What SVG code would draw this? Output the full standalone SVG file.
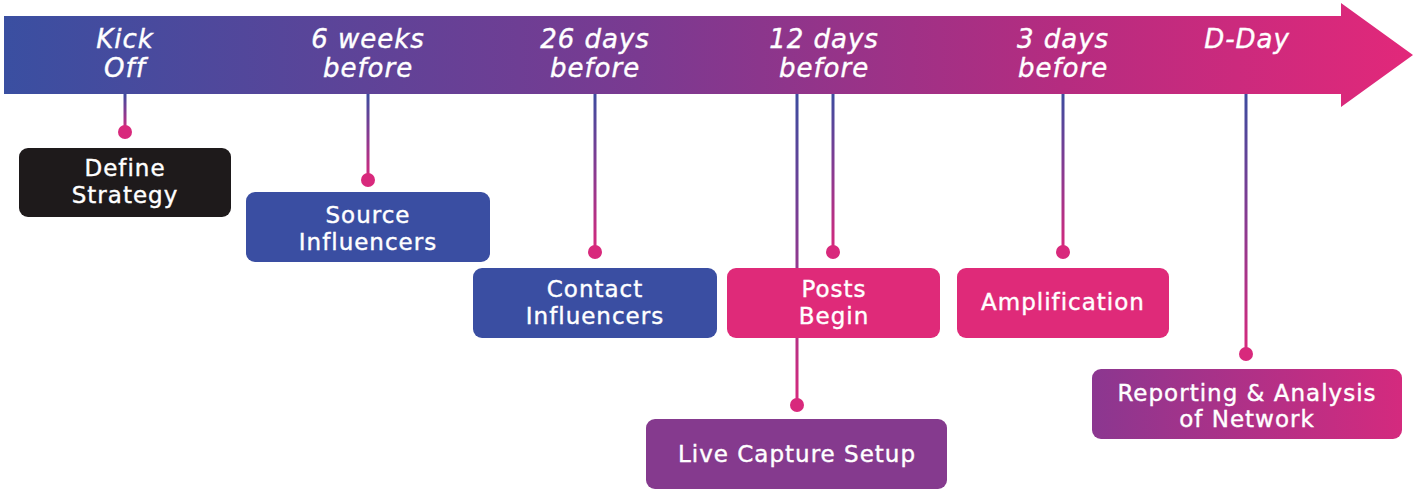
<svg xmlns="http://www.w3.org/2000/svg" width="1413" height="491" viewBox="0 0 1413 491">
  <defs>
    <linearGradient id="arrowGrad" x1="0" y1="0" x2="1" y2="0">
      <stop offset="0" stop-color="#3a4fa1"/>
      <stop offset="0.45" stop-color="#7a3a91"/>
      <stop offset="0.75" stop-color="#b52c80"/>
      <stop offset="1" stop-color="#e2287a"/>
    </linearGradient>
    <linearGradient id="stemGrad" x1="0" y1="0" x2="0" y2="1">
      <stop offset="0" stop-color="#3d4c9f"/>
      <stop offset="0.5" stop-color="#8a3a90"/>
      <stop offset="1" stop-color="#d8297c"/>
    </linearGradient>
    <linearGradient id="reportGrad" x1="0" y1="0" x2="1" y2="0">
      <stop offset="0" stop-color="#8b3790"/>
      <stop offset="1" stop-color="#d42a7e"/>
    </linearGradient>
    <style>
      .phase { font-family: "DejaVu Sans", "Noto Sans", sans-serif; font-style: italic; font-size: 26px; letter-spacing: 1px; fill: #ffffff; stroke: #ffffff; stroke-width: 0.4px; text-anchor: middle; }
      .label { font-family: "DejaVu Sans", "Noto Sans", sans-serif; font-size: 23px; letter-spacing: 1px; fill: #ffffff; stroke: #ffffff; stroke-width: 0.4px; text-anchor: middle; }
      .stem { fill: url(#stemGrad); }
      .dot { fill: #d8297c; }
      .box { rx: 9; ry: 9; }
    </style>
  </defs>

  <!-- timeline arrow -->
  <g id="timeline">
    <path d="M4 16 H1341 V3 L1413 55 L1341 107 V94 H4 Z" fill="url(#arrowGrad)"/>
    <text class="phase" x="125" y="48">Kick</text>
    <text class="phase" x="125" y="77">Off</text>
    <text class="phase" x="368" y="48">6 weeks</text>
    <text class="phase" x="368" y="77">before</text>
    <text class="phase" x="595" y="48">26 days</text>
    <text class="phase" x="595" y="77">before</text>
    <text class="phase" x="824" y="48">12 days</text>
    <text class="phase" x="824" y="77">before</text>
    <text class="phase" x="1063" y="48">3 days</text>
    <text class="phase" x="1063" y="77">before</text>
    <text class="phase" x="1247" y="48">D-Day</text>
  </g>

  <!-- stems from the timeline to each task -->
  <g id="connectors">
    <rect class="stem" x="123.5" y="94" width="3" height="38"/>
    <circle class="dot" cx="125" cy="132" r="7"/>
    <rect class="stem" x="366.5" y="94" width="3" height="86"/>
    <circle class="dot" cx="368" cy="180" r="7"/>
    <rect class="stem" x="593.5" y="94" width="3" height="158"/>
    <circle class="dot" cx="595" cy="252" r="7"/>
    <rect class="stem" x="795.5" y="94" width="3" height="311"/>
    <circle class="dot" cx="797" cy="405" r="7"/>
    <rect class="stem" x="831.5" y="94" width="3" height="158"/>
    <circle class="dot" cx="833" cy="252" r="7"/>
    <rect class="stem" x="1061.5" y="94" width="3" height="158"/>
    <circle class="dot" cx="1063" cy="252" r="7"/>
    <rect class="stem" x="1244.5" y="94" width="3" height="260"/>
    <circle class="dot" cx="1246" cy="354" r="7"/>
  </g>

  <g id="define-strategy">
    <rect class="box" x="19" y="148" width="212" height="69" fill="#1e1a1b"/>
    <text class="label" x="125" y="176">Define</text>
    <text class="label" x="125" y="203">Strategy</text>
  </g>

  <g id="source-influencers">
    <rect class="box" x="246" y="192" width="244" height="70" fill="#3a4ea2"/>
    <text class="label" x="368" y="223">Source</text>
    <text class="label" x="368" y="250">Influencers</text>
  </g>

  <g id="contact-influencers">
    <rect class="box" x="473" y="268" width="244" height="70" fill="#3a4ea2"/>
    <text class="label" x="595" y="297">Contact</text>
    <text class="label" x="595" y="324">Influencers</text>
  </g>

  <g id="posts-begin">
    <rect class="box" x="727" y="268" width="213" height="70" fill="#df2a79"/>
    <text class="label" x="834" y="297">Posts</text>
    <text class="label" x="834" y="324">Begin</text>
  </g>

  <g id="amplification">
    <rect class="box" x="957" y="268" width="212" height="70" fill="#df2a79"/>
    <text class="label" x="1063" y="310">Amplification</text>
  </g>

  <g id="live-capture-setup">
    <rect class="box" x="646" y="419" width="301" height="70" fill="#853a8e"/>
    <text class="label" x="797" y="462">Live Capture Setup</text>
  </g>

  <g id="reporting-analysis">
    <rect class="box" x="1092" y="369" width="310" height="70" fill="url(#reportGrad)"/>
    <text class="label" x="1247" y="401">Reporting &amp; Analysis</text>
    <text class="label" x="1247" y="427">of Network</text>
  </g>
</svg>
